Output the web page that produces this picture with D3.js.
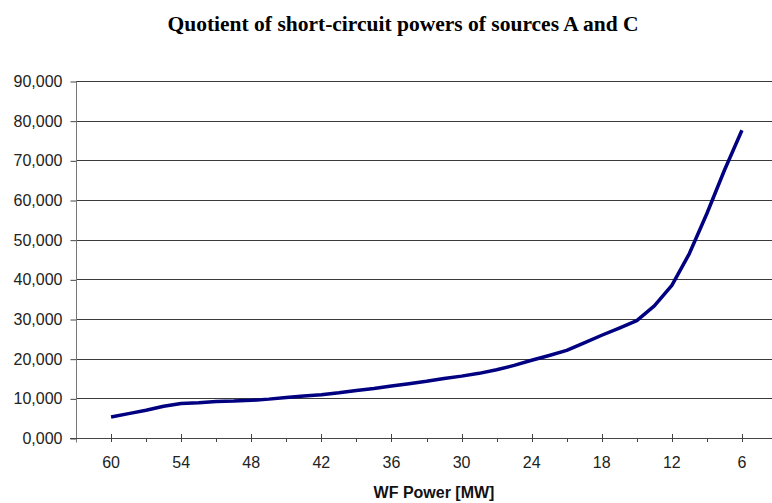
<!DOCTYPE html>
<html>
<head>
<meta charset="utf-8">
<script src="https://cdn.jsdelivr.net/npm/d3@7"></script>
<style>
  body { margin: 0; background: #fff; }
  svg { display: block; }
</style>
</head>
<body>
<svg width="772" height="503"></svg>
<script>
// WF power categories, every 1.5 MW from 60 down to 6
var powers = [60, 58.5, 57, 55.5, 54, 52.5, 51, 49.5, 48, 46.5, 45, 43.5, 42, 40.5, 39, 37.5, 36, 34.5,
              33, 31.5, 30, 28.5, 27, 25.5, 24, 22.5, 21, 19.5, 18, 16.5, 15, 13.5, 12, 10.5, 9, 7.5, 6];

// quotient values
var quotient = [5.3, 6.15, 7.0, 8.0, 8.7, 8.9, 9.2, 9.3, 9.5, 9.8, 10.2, 10.6, 10.9, 11.4, 12.0, 12.5, 13.1, 13.7,
                14.3, 15.0, 15.6, 16.3, 17.2, 18.3, 19.6, 20.8, 22.1, 24.0, 25.9, 27.7, 29.6, 33.3, 38.5, 46.5, 56.6, 67.5, 77.6];

var xLabels = [60, 54, 48, 42, 36, 30, 24, 18, 12, 6];
var xTicks = [60, 57, 54, 51, 48, 45, 42, 39, 36, 33, 30, 27, 24, 21, 18, 15, 12, 9, 6];
var yTicks = [0, 10, 20, 30, 40, 50, 60, 70, 80, 90];

var svg = d3.select("svg"),
    plotLeft = 76, plotRight = 777, plotTop = 81, plotBottom = 438;

var x = d3.scalePoint()
    .domain(powers)
    .range([plotLeft, plotRight])
    .padding(2);

var y = d3.scaleLinear()
    .domain([0, 90])
    .range([plotBottom, plotTop]);

// decimal comma, three places: 90,000
var fmt = function(d) { return d3.format(".3f")(d).replace(".", ","); };

// title
svg.append("text")
    .attr("x", 403)
    .attr("y", 31)
    .attr("text-anchor", "middle")
    .attr("font-family", "Liberation Serif, serif")
    .attr("font-weight", "bold")
    .attr("font-size", 21.5)
    .attr("fill", "#000")
    .text("Quotient of short-circuit powers of sources A and C");

// gridlines
svg.append("g")
  .selectAll("line")
  .data(yTicks.slice(1))
  .enter().append("line")
    .attr("x1", plotLeft)
    .attr("x2", 772)
    .attr("y1", function(d) { return Math.round(y(d)) + 0.5; })
    .attr("y2", function(d) { return Math.round(y(d)) + 0.5; })
    .attr("stroke", "#3a3a3a")
    .attr("stroke-width", 1);

// y axis
var yAxis = svg.append("g")
    .attr("transform", "translate(" + (plotLeft + 0.5) + ",0.5)")
    .call(d3.axisLeft(y).tickValues(yTicks).tickSize(6).tickPadding(8).tickFormat(fmt));
yAxis.select(".domain").remove();
yAxis.append("line")
    .attr("x1", 0).attr("x2", 0)
    .attr("y1", plotTop).attr("y2", plotBottom + 4)
    .attr("stroke", "#777");
yAxis.selectAll(".tick line").attr("stroke", "#444");
yAxis.selectAll("text")
    .attr("font-family", "Liberation Sans, Arial, sans-serif")
    .attr("font-size", 16)
    .attr("fill", "#222");

// x axis line
svg.append("line")
    .attr("x1", plotLeft - 6).attr("x2", 772)
    .attr("y1", plotBottom + 0.5).attr("y2", plotBottom + 0.5)
    .attr("stroke", "#444");

// x ticks: labelled ones cross the axis, the others hang below
svg.append("g")
  .selectAll("line")
  .data(xTicks)
  .enter().append("line")
    .attr("x1", function(d) { return Math.round(x(d)) + 0.5; })
    .attr("x2", function(d) { return Math.round(x(d)) + 0.5; })
    .attr("y1", function(d) { return xLabels.indexOf(d) >= 0 ? plotBottom - 4 : plotBottom; })
    .attr("y2", plotBottom + 4)
    .attr("stroke", "#444");

svg.append("g")
  .selectAll("text")
  .data(xLabels)
  .enter().append("text")
    .attr("x", function(d) { return x(d); })
    .attr("y", 468)
    .attr("text-anchor", "middle")
    .attr("font-family", "Liberation Sans, Arial, sans-serif")
    .attr("font-size", 16)
    .attr("fill", "#222")
    .text(function(d) { return d; });

svg.append("text")
    .attr("x", 434)
    .attr("y", 498)
    .attr("text-anchor", "middle")
    .attr("font-family", "Liberation Sans, Arial, sans-serif")
    .attr("font-weight", "bold")
    .attr("font-size", 16)
    .attr("fill", "#111")
    .text("WF Power [MW]");

// the curve
var line = d3.line()
    .x(function(d, i) { return x(powers[i]); })
    .y(function(d) { return y(d); });

svg.append("path")
    .datum(quotient)
    .attr("d", line)
    .attr("fill", "none")
    .attr("stroke", "#000080")
    .attr("stroke-width", 3.5)
    .attr("stroke-linejoin", "round");
</script>
</body>
</html>
